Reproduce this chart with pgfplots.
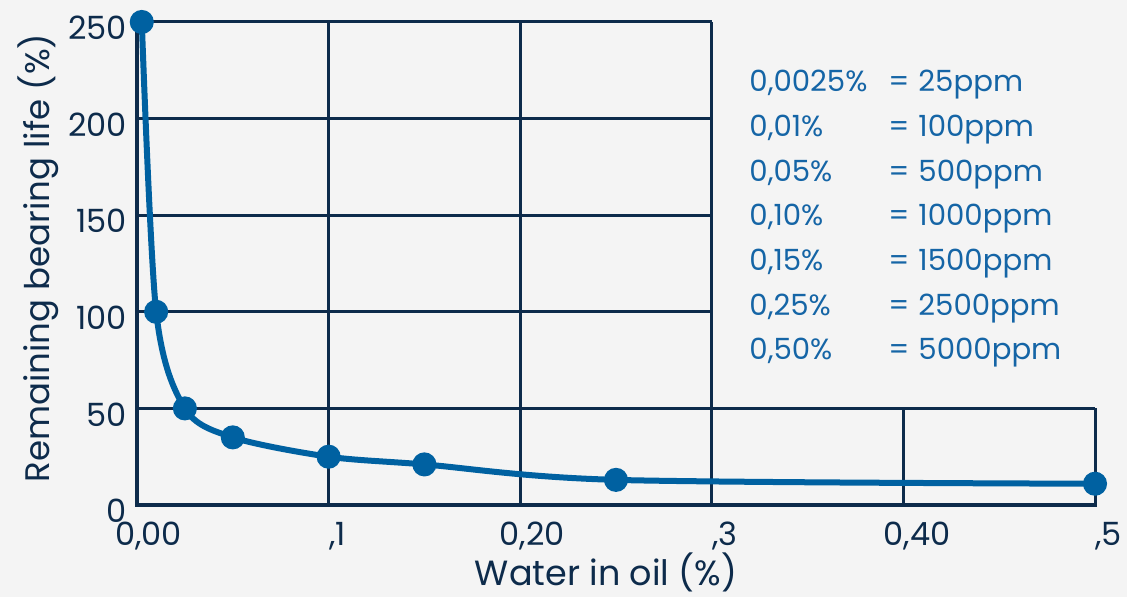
\documentclass[border=0pt]{standalone}
\usepackage{fontspec}
\setmainfont{Poppins}
\usepackage{pgfplots}
\pgfplotsset{compat=1.18}
\definecolor{bg}{HTML}{F4F4F4}
\definecolor{navy}{HTML}{0D2B4B}
\definecolor{curve}{HTML}{0061A1}
\definecolor{note}{HTML}{1565A6}

\begin{document}
\begin{tikzpicture}
\fill[bg] (-68.5pt,-46pt) rectangle (495pt,252.5pt);
\begin{axis}[
    at={(0,0)}, anchor=south west,
    scale only axis,
    width=479pt, height=241.5pt,
    xmin=0, xmax=0.5, ymin=0, ymax=250,
    clip=false,
    axis line style={draw=none},
    major tick length=0pt,
    xtick={0,0.1,0.2,0.3,0.4,0.5},
    xticklabels={{\hspace*{-11pt}0,00},{,1},{\hspace*{-10.5pt}0,20},{,3},{\hspace*{-10pt}0,40},{,5}},
    ytick={0,50,100,150,200,250},
    /pgf/number format/assume math mode=true,
    tick label style={font=\fontsize{16}{19}\selectfont, text=navy},
    x tick label style={anchor=north west, inner sep=0pt, yshift=-8.5pt},
    y tick label style={anchor=east, inner sep=0pt, xshift=-5pt, yshift=-3pt},
]
% frame and partial grid
\draw[navy, line width=1.5pt] (axis cs:0,50) -- (axis cs:0.5,50);
\draw[navy, line width=1.5pt] (axis cs:0,100) -- (axis cs:0.3,100);
\draw[navy, line width=1.5pt] (axis cs:0,150) -- (axis cs:0.3,150);
\draw[navy, line width=1.5pt] (axis cs:0,200) -- (axis cs:0.3,200);
\draw[navy, line width=1.5pt] (axis cs:0,250) -- (axis cs:0.3,250);
\draw[navy, line width=1.5pt] (axis cs:0.1,0) -- (axis cs:0.1,250);
\draw[navy, line width=1.5pt] (axis cs:0.2,0) -- (axis cs:0.2,250);
\draw[navy, line width=1.5pt] (axis cs:0.3,0) -- (axis cs:0.3,250);
\draw[navy, line width=1.5pt] (axis cs:0.4,0) -- (axis cs:0.4,50);
\draw[navy, line width=1.5pt] (axis cs:0.5,0) -- (axis cs:0.5,50);
\draw[navy, line width=2pt, line cap=rect] (axis cs:0,250) -- (axis cs:0,0) -- (axis cs:0.5,0);

\addplot[curve, line width=3pt, smooth, tension=0.5,
    mark=*, mark size=4.5pt, mark options={draw=none, fill=curve}]
coordinates {
    (0.0025,250) (0.01,100) (0.025,50) (0.05,35)
    (0.1,25) (0.15,21) (0.25,13) (0.5,11)
};
\end{axis}

% axis titles
\node[anchor=base, inner sep=0pt, text=navy, font=\fontsize{17.5}{21}\selectfont]
    at (234.5pt,-40.5pt) {Water in oil (\%)};
\node[anchor=base, rotate=90, inner sep=0pt, text=navy, font=\fontsize{17}{21}\selectfont]
    at (-43.5pt,123.5pt) {Remaining bearing life (\%)};

% conversion table
\begin{scope}[every node/.style={anchor=base west, inner sep=0pt, text=note, font=\fontsize{14.6}{17}\selectfont}]
\node at (306pt,206.5pt) {0,0025\%}; \node at (375.5pt,206.5pt) {=}; \node at (390.5pt,206.5pt) {25ppm};
\node at (306pt,184.15pt) {0,01\%};  \node at (375.5pt,184.15pt) {=}; \node at (390.5pt,184.15pt) {100ppm};
\node at (306pt,161.85pt) {0,05\%};  \node at (375.5pt,161.85pt) {=}; \node at (390.5pt,161.85pt) {500ppm};
\node at (306pt,139.5pt) {0,10\%};   \node at (375.5pt,139.5pt) {=}; \node at (390.5pt,139.5pt) {1000ppm};
\node at (306pt,117.15pt) {0,15\%};  \node at (375.5pt,117.15pt) {=}; \node at (390.5pt,117.15pt) {1500ppm};
\node at (306pt,94.85pt) {0,25\%};   \node at (375.5pt,94.85pt) {=}; \node at (390.5pt,94.85pt) {2500ppm};
\node at (306pt,72.5pt) {0,50\%};    \node at (375.5pt,72.5pt) {=}; \node at (390.5pt,72.5pt) {5000ppm};
\end{scope}

\pgfresetboundingbox
\useasboundingbox (-68.5pt,-46pt) rectangle (495pt,252.5pt);
\end{tikzpicture}
\end{document}
